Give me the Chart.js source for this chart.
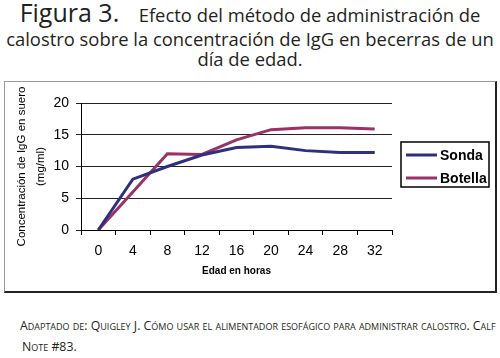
<!DOCTYPE html>
<html>
<head>
<meta charset="utf-8">
<script src="https://cdn.jsdelivr.net/npm/chart.js@4"></script>
<style>
  body { margin: 0; background: #fff; width: 500px; height: 358px; position: relative; overflow: hidden; font-family: "Open Sans", sans-serif; color: #231f20; }
  .hd { position: absolute; left: 0; width: 500px; text-align: center; white-space: nowrap; line-height: 1; }
  .ft { position: absolute; white-space: nowrap; font-variant: small-caps; font-size: 12.3px; line-height: 1; font-family: "Open Sans", sans-serif; }
  #frame { position: absolute; left: 4px; top: 81px; width: 490px; height: 209px;
           border-top: 1px solid #999; border-left: 1px solid #999;
           border-right: 2px solid #222; border-bottom: 2px solid #222; }
</style>
</head>
<body>
<div class="hd" style="top:0px;font-size:25px;"><span>Figura 3.</span>&nbsp;&nbsp; <span style="font-size:18.4px">Efecto del método de administración de</span></div>
<div class="hd" style="top:30px;font-size:18.4px;">calostro sobre la concentración de IgG en becerras de un</div>
<div class="hd" style="top:50px;font-size:18.4px;">día de edad.</div>

<div id="frame"><canvas id="chart-area" width="490" height="209"></canvas></div>

<div class="ft" style="left:20px;top:320px;">Adaptado de: Quigley J. Cómo usar el alimentador esofágico para administrar calostro. Calf</div>
<div class="ft" style="left:22px;top:341px;">Note #83.</div>

<script>
var hours = ['0', '4', '8', '12', '16', '20', '24', '28', '32'];
var sonda = [0, 8, 10, 11.8, 13, 13.2, 12.5, 12.2, 12.2];
var botella = [0, 6, 12, 11.9, 14.2, 15.8, 16.1, 16.1, 15.9];
var seriesNames = ['Sonda', 'Botella'];
var seriesColors = ['#2f2f7f', '#993366'];

var tickFont = { family: 'Liberation Sans, Arial, sans-serif', size: 14 };

// boxed legend at the right, like the Excel original
var boxLegend = {
	id: 'boxLegend',
	afterDraw: function (chart) {
		var ctx = chart.ctx;
		var x = 396, y = 60, w = 88, h = 45;
		ctx.save();
		ctx.strokeStyle = '#000';
		ctx.lineWidth = 1.5;
		ctx.strokeRect(x, y, w, h);
		ctx.font = 'bold 14px Liberation Sans, Arial, sans-serif';
		ctx.textBaseline = 'middle';
		chart.data.datasets.forEach(function (ds, i) {
			var ly = y + 13 + i * 23;
			ctx.strokeStyle = ds.borderColor;
			ctx.lineWidth = 3;
			ctx.beginPath();
			ctx.moveTo(x + 5, ly);
			ctx.lineTo(x + 36, ly);
			ctx.stroke();
			ctx.fillStyle = '#000';
			ctx.fillText(ds.label, x + 39, ly + 1);
		});
		ctx.restore();
	}
};

var config = {
	type: 'line',
	data: {
		labels: hours,
		datasets: [{
			label: seriesNames[0],
			data: sonda,
			borderColor: seriesColors[0],
			backgroundColor: seriesColors[0],
			borderWidth: 3,
			pointRadius: 0,
			tension: 0
		}, {
			label: seriesNames[1],
			data: botella,
			borderColor: seriesColors[1],
			backgroundColor: seriesColors[1],
			borderWidth: 3,
			pointRadius: 0,
			tension: 0
		}]
	},
	options: {
		responsive: false,
		animation: false,
		layout: { padding: { top: 21, right: 103, bottom: 0, left: 0 } },
		plugins: {
			legend: { display: false },
			tooltip: { enabled: false }
		},
		scales: {
			x: {
				offset: true,
				afterFit: function (scale) { scale.height = 61; },
				grid: { offset: true, drawOnChartArea: false, drawTicks: true, tickLength: 5, color: '#000' },
				border: { color: '#000', width: 1 },
				ticks: { font: tickFont, color: '#000', padding: 8, maxRotation: 0 },
				title: {
					display: true,
					text: 'Edad en horas',
					color: '#000',
					font: { family: 'Liberation Sans, Arial, sans-serif', size: 10, weight: 'bold' },
					padding: { top: 0, bottom: 14 }
				}
			},
			y: {
				min: 0,
				max: 20,
				afterFit: function (scale) { scale.width = 76; },
				grid: { color: '#222', tickLength: 5 },
				border: { color: '#000', width: 1 },
				ticks: { stepSize: 5, font: tickFont, color: '#000', padding: 7 },
				title: {
					display: true,
					text: ['Concentración de IgG en suero', '(mg/ml)'],
					color: '#000',
					font: { family: 'Liberation Sans, Arial, sans-serif', size: 11.5, lineHeight: 1.65 },
					padding: { top: 7, bottom: 0 }
				}
			}
		}
	},
	plugins: [boxLegend]
};

window.onload = function () {
	var ctx = document.getElementById('chart-area').getContext('2d');
	window.myLine = new Chart(ctx, config);
};
</script>
</body>
</html>
